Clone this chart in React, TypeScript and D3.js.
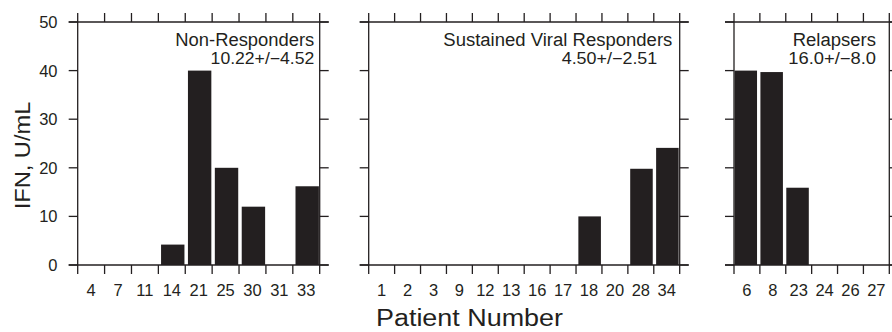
import React from "react";
import * as d3 from "d3";

// ---- data ----
const nonRespPatients = ["4", "7", "11", "14", "21", "25", "30", "31", "33"];
const nonRespValues = [0, 0, 0, 4.2, 40, 20, 12, 0, 16.2];

const svrPatients = ["1", "2", "3", "9", "12", "13", "16", "17", "18", "20", "28", "34"];
const svrValues = [0, 0, 0, 0, 0, 0, 0, 0, 10, 0, 19.8, 24.1];

const relPatients = ["6", "8", "23", "24", "26", "27"];
const relValues = [40, 39.7, 15.9, 0, 0, 0];

const yTicks = [0, 10, 20, 30, 40, 50];

const panelTitles = ["Non-Responders", "Sustained Viral Responders", "Relapsers"];
const panelStats = ["10.22+/\u22124.52", "4.50+/\u22122.51", "16.0+/\u22128.0"];

const FONT = "'Liberation Sans', Arial, Helvetica, sans-serif";
const INK = "#231f20";

const y = d3.scaleLinear().domain([0, 50]).range([265, 22]);

type PanelCfg = {
  cats: string[];
  vals: number[];
  x0: number;
  x1: number;
  title: string;
  stat: string;
  titleRight: number;
  statRight: number;
  titleLen: number;
  statLen: number;
  barOffset: number;
  showYLabels: boolean;
};

const TICK = 9;

function Panel({ cfg }: { cfg: PanelCfg }) {
  const x = d3.scaleBand<string>().domain(cfg.cats).range([cfg.x0, cfg.x1]).padding(0);
  const bw = x.bandwidth();
  const barW = bw * 0.87;
  const boundaries = [...cfg.cats.map((c) => x(c) as number), cfg.x1];
  const top = y(50);
  const bottom = y(0);
  return (
    <g>
      {cfg.cats.map((c, i) =>
        cfg.vals[i] > 0 ? (
          <rect
            key={c}
            x={(x(c) as number) + bw * cfg.barOffset}
            y={y(cfg.vals[i])}
            width={barW}
            height={bottom - y(cfg.vals[i])}
            fill={INK}
          />
        ) : null
      )}
      <g stroke={INK} strokeWidth={1.3} fill="none">
        <line x1={cfg.x0 - TICK} x2={cfg.x1 + TICK} y1={top} y2={top} />
        <line x1={cfg.x0 - TICK} x2={cfg.x1 + TICK} y1={bottom} y2={bottom} />
        {boundaries.map((b, i) => (
          <g key={i}>
            <line x1={b} x2={b} y1={top - TICK} y2={top} />
            <line x1={b} x2={b} y1={bottom} y2={bottom + TICK} />
          </g>
        ))}
        <line x1={cfg.x0} x2={cfg.x0} y1={top} y2={bottom} />
        <line x1={cfg.x1} x2={cfg.x1} y1={top} y2={bottom} />
        {yTicks.map((t) => (
          <g key={t}>
            <line x1={cfg.x0 - TICK} x2={cfg.x0} y1={y(t)} y2={y(t)} />
            <line x1={cfg.x1} x2={cfg.x1 + TICK} y1={y(t)} y2={y(t)} />
          </g>
        ))}
      </g>
      {cfg.showYLabels &&
        yTicks.map((t) => (
          <text
            key={t}
            x={57.5}
            y={y(t)}
            dy="0.36em"
            textAnchor="end"
            fontSize={16.5}
            fontFamily={FONT}
            fill={INK}
          >
            {t}
          </text>
        ))}
      {cfg.cats.map((c) => (
        <text
          key={c}
          x={(x(c) as number) + bw / 2}
          y={296}
          textAnchor="middle"
          fontSize={16.5}
          fontFamily={FONT}
          fill={INK}
        >
          {c}
        </text>
      ))}
      <text
        x={cfg.titleRight - cfg.titleLen}
        y={45.5}
        fontSize={18}
        fontFamily={FONT}
        fill={INK}
        textLength={cfg.titleLen}
        lengthAdjust="spacingAndGlyphs"
      >
        {cfg.title}
      </text>
      <text
        x={cfg.statRight - cfg.statLen}
        y={63.5}
        fontSize={16}
        fontFamily={FONT}
        fill={INK}
        textLength={cfg.statLen}
        lengthAdjust="spacingAndGlyphs"
      >
        {cfg.stat}
      </text>
    </g>
  );
}

export default function App() {
  const panels: PanelCfg[] = [
    {
      cats: nonRespPatients,
      vals: nonRespValues,
      x0: 77.7,
      x1: 319.7,
      title: panelTitles[0],
      stat: panelStats[0],
      titleRight: 314.3,
      statRight: 314.3,
      titleLen: 139,
      statLen: 103.7,
      barOffset: 0.1,
      showYLabels: true,
    },
    {
      cats: svrPatients,
      vals: svrValues,
      x0: 368.7,
      x1: 679.7,
      title: panelTitles[1],
      stat: panelStats[1],
      titleRight: 672.3,
      statRight: 657.3,
      titleLen: 229,
      statLen: 95.6,
      barOffset: 0.09,
      showYLabels: false,
    },
    {
      cats: relPatients,
      vals: relValues,
      x0: 734,
      x1: 889.3,
      title: panelTitles[2],
      stat: panelStats[2],
      titleRight: 876,
      statRight: 876,
      titleLen: 83.3,
      statLen: 87.7,
      barOffset: 0.02,
      showYLabels: false,
    },
  ];
  return (
    <svg
      width={892}
      height={332}
      style={{ position: "absolute", left: 0, top: 0, background: "#fff" }}
    >
      <rect x={0} y={0} width={892} height={332} fill="#fff" />
      {panels.map((p, i) => (
        <Panel key={i} cfg={p} />
      ))}
      <text
        transform={`translate(29.5, 155.5) rotate(-90)`}
        textAnchor="middle"
        fontSize={22.5}
        fontFamily={FONT}
        fill={INK}
        textLength={107.6}
        lengthAdjust="spacingAndGlyphs"
      >
        IFN, U/mL
      </text>
      <text
        x={376}
        y={326}
        fontSize={23}
        fontFamily={FONT}
        fill={INK}
        textLength={187}
        lengthAdjust="spacingAndGlyphs"
      >
        Patient Number
      </text>
    </svg>
  );
}
